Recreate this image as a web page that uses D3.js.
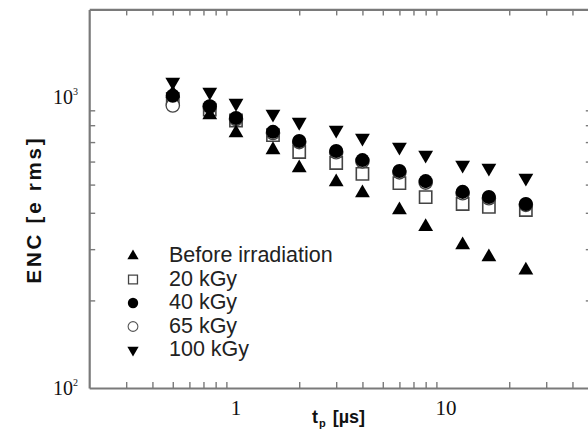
<!DOCTYPE html>
<html>
<head>
<meta charset="utf-8">
<script src="https://cdn.jsdelivr.net/npm/d3@7"></script>
<style>
  html, body { margin: 0; padding: 0; background: #fff; }
  svg { display: block; }
</style>
</head>
<body>
<svg id="chart" width="588" height="436"></svg>
<script>
// ---- data ----
const shapingTimes = [0.5, 0.75, 1, 1.5, 2, 3, 4, 6, 8, 12, 16, 24];
const beforeIrradiation = [1030, 867, 752, 658, 570, 510, 468, 409, 358, 310, 282, 254];
const dose20kGy  = [985, 905, 830, 740, 647, 593, 544, 506, 453, 429, 419, 409];
const dose40kGy  = [1010, 930, 847, 759, 706, 652, 607, 557, 514, 472, 453, 429];
const dose65kGy  = [935, 925, 840, 752, 700, 646, 601, 551, 508, 467, 449, 426];
const dose100kGy = [1126, 1041, 953, 874, 820, 770, 723, 673, 632, 584, 570, 527];
const seriesLabels = ["Before irradiation", "20 kGy", "40 kGy", "65 kGy", "100 kGy"];
const xTickLabels = [1, 10];
const yTickLabels = [{v: 1000, exp: "3"}, {v: 100, exp: "2"}];
const xMinorTicks = [0.3,0.4,0.5,0.6,0.7,0.8,0.9,2,3,4,5,6,7,8,9,20,30,40];
const yMinorTicks = [200,300,400,500,600,700,800,900];

const svg = d3.select("#chart");
const x = d3.scaleLog().domain([0.2, 50]).range([89.2, 592.8]);
const y = d3.scaleLog().domain([100, 2000]).range([388, 9.4]);

const axisColor = "#7a7a7a";

// ---- frame / axes ----
const gB = svg.append("g").attr("transform", `translate(0,${y(100)})`)
  .call(d3.axisBottom(x).tickValues(xMinorTicks).tickFormat("").tickSizeInner(-6).tickSizeOuter(0));
const gT = svg.append("g").attr("transform", `translate(0,${y(2000)})`)
  .call(d3.axisTop(x).tickValues(xMinorTicks).tickFormat("").tickSizeInner(-6).tickSizeOuter(0));
const gL = svg.append("g").attr("transform", `translate(${x(0.2)},0)`)
  .call(d3.axisLeft(y).tickValues(yMinorTicks).tickFormat("").tickSizeInner(-6).tickSizeOuter(0));
const gR = svg.append("g").attr("transform", `translate(${x(50)},0)`)
  .call(d3.axisRight(y).tickValues(yMinorTicks).tickFormat("").tickSizeInner(-7).tickSizeOuter(0));
[gB, gT, gL, gR].forEach(g => {
  g.select(".domain").attr("stroke", axisColor).attr("stroke-width", 2.2);
  g.selectAll(".tick line").attr("stroke", axisColor).attr("stroke-width", 1.4);
});

// ---- tick labels ----
svg.append("g").selectAll("text").data(xTickLabels).join("text")
  .attr("x", d => x(d)).attr("y", 415)
  .attr("text-anchor", "middle")
  .attr("font-family", "'Liberation Serif', 'Times New Roman', serif")
  .attr("font-size", 21).attr("fill", "#111")
  .text(d => d);

const yl = svg.append("g").selectAll("text").data(yTickLabels).join("text")
  .attr("x", 53).attr("y", d => y(d.v) + 7)
  .attr("font-family", "'Liberation Serif', 'Times New Roman', serif")
  .attr("font-size", 20).attr("fill", "#111");
yl.append("tspan").text("10");
yl.append("tspan").attr("font-size", 10).attr("dy", -9).text(d => d.exp);

// ---- axis titles ----
svg.append("text")
  .attr("transform", "translate(41,211) rotate(-90)")
  .attr("text-anchor", "middle")
  .attr("font-family", "'Liberation Sans', Arial, sans-serif")
  .attr("font-weight", "bold").attr("font-size", 20.5).attr("fill", "#111")
  .attr("textLength", 145).attr("lengthAdjust", "spacing")
  .text("ENC [e rms]");

const xt = svg.append("text")
  .attr("x", 312).attr("y", 423)
  .attr("font-family", "'Liberation Sans', Arial, sans-serif")
  .attr("font-weight", "bold").attr("font-size", 18).attr("fill", "#111");
xt.append("tspan").text("t");
xt.append("tspan").attr("font-size", 11).attr("dy", 4).attr("dx", 1).text("p");
xt.append("tspan").attr("dy", -4).attr("dx", 7).text("[µs]");

// ---- markers ----
const tri = d3.symbol().type(d3.symbolTriangle);
const circ = d3.symbol().type(d3.symbolCircle);
const sq = d3.symbol().type(d3.symbolSquare);

const series = [
  {name: seriesLabels[1], vals: dose20kGy, sym: sq, size: 150, fill: "#fff", stroke: "#444", sw: 1.6, rot: 0},
  {name: seriesLabels[3], vals: dose65kGy, sym: circ, size: 140, fill: "#fff", stroke: "#444", sw: 1.3, rot: 0},
  {name: seriesLabels[2], vals: dose40kGy, sym: circ, size: 155, fill: "#000", stroke: "none", sw: 0, rot: 0},
  {name: seriesLabels[0], vals: beforeIrradiation, sym: tri, size: 95, fill: "#000", stroke: "none", sw: 0, rot: 0},
  {name: seriesLabels[4], vals: dose100kGy, sym: tri, size: 95, fill: "#000", stroke: "none", sw: 0, rot: 180},
];

series.forEach(s => {
  svg.append("g").selectAll("path").data(s.vals).join("path")
    .attr("transform", (d, i) => `translate(${x(shapingTimes[i])},${y(d)}) rotate(${s.rot})`)
    .attr("d", s.sym.size(s.size)())
    .attr("fill", s.fill).attr("stroke", s.stroke).attr("stroke-width", s.sw);
});

// ---- legend ----
const legendItems = [
  {label: seriesLabels[0], sym: tri, size: 55, fill: "#000", stroke: "none", sw: 0, rot: 0},
  {label: seriesLabels[1], sym: sq, size: 80, fill: "#fff", stroke: "#444", sw: 1.3, rot: 0},
  {label: seriesLabels[2], sym: circ, size: 85, fill: "#000", stroke: "none", sw: 0, rot: 0},
  {label: seriesLabels[3], sym: circ, size: 75, fill: "#fff", stroke: "#555", sw: 1.1, rot: 0},
  {label: seriesLabels[4], sym: tri, size: 55, fill: "#000", stroke: "none", sw: 0, rot: 180},
];
const legendY = d3.scalePoint().domain(d3.range(legendItems.length)).range([256, 350]);
const lg = svg.append("g").selectAll("g").data(legendItems).join("g")
  .attr("transform", (d, i) => `translate(0,${legendY(i)})`);
lg.append("path")
  .attr("transform", d => `translate(133,0) rotate(${d.rot})`)
  .attr("d", d => d.sym.size(d.size)())
  .attr("fill", d => d.fill).attr("stroke", d => d.stroke).attr("stroke-width", d => d.sw);
lg.append("text")
  .attr("x", 169).attr("y", 6)
  .attr("font-family", "'Liberation Sans', Arial, sans-serif")
  .attr("font-size", 21.5).attr("fill", "#222")
  .text(d => d.label);
</script>
</body>
</html>
